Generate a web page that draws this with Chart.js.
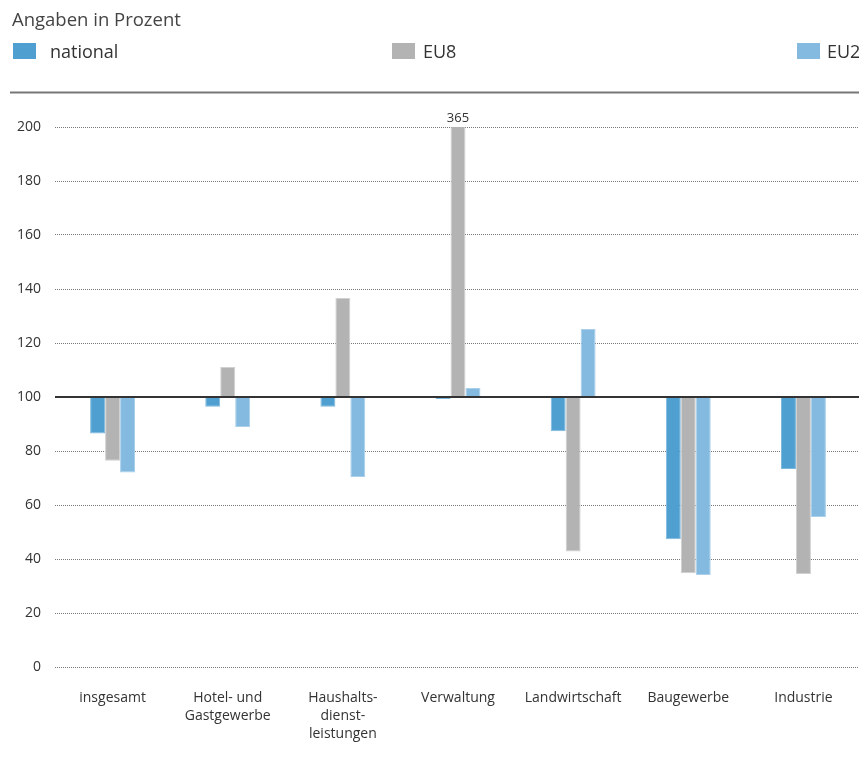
<!DOCTYPE html>
<html>
<head>
<meta charset="utf-8">
<script src="https://cdn.jsdelivr.net/npm/chart.js@4.4.1/dist/chart.umd.min.js"></script>
<style>
  html, body { margin: 0; padding: 0; background: #fff; overflow: hidden; }
  #wrap { position: relative; width: 872px; height: 764px; }
</style>
</head>
<body>
<div id="wrap"><canvas id="chart"></canvas></div>
<script>
// Werte in Prozent, Basis 100
const categories = ['insgesamt', ['Hotel- und', 'Gastgewerbe'], ['Haushalts-', 'dienst-', 'leistungen'],
    'Verwaltung', 'Landwirtschaft', 'Baugewerbe', 'Industrie'];
const base = 100;
const national = [86.5, 96.4, 96.4, 99.3, 87.3, 47.3, 73.3];
const eu8 = [76.4, 111.1, 136.7, 365, 42.8, 34.7, 34.4];
const eu27 = [72.0, 88.9, 70.4, 103.3, 125.2, 34.1, 55.6];
const yTicks = [0, 20, 40, 60, 80, 100, 120, 140, 160, 180, 200];

const seriesNames = ['national', 'EU8', 'EU27'];
const colors = ['#4f9fd0', '#b3b3b3', '#84bae0'];
const edges = ['#7db8dd', '#d0d0d0', '#a9cfea'];

const font = '"Open Sans", "Liberation Sans", Arial, sans-serif';
const textColor = '#333';

function toRange(arr) {
    return arr.map(v => [base, v]);
}

const datasets = [national, eu8, eu27].map((arr, i) => ({
    label: seriesNames[i],
    data: toRange(arr),
    backgroundColor: colors[i],
    borderColor: edges[i],
    borderWidth: 1,
    borderSkipped: false,
    categoryPercentage: 0.39,
    barPercentage: 1.0
}));

// Titel, Legende, Linie oben, 100er Linie und Wert über dem abgeschnittenen Balken
const decor = {
    id: 'decor',
    beforeDraw(chart) {
        const c = chart.ctx;
        c.save();
        c.fillStyle = '#444';
        c.font = '18.5px ' + font;
        c.textBaseline = 'alphabetic';
        c.fillText('Angaben in Prozent', 12, 26);

        const boxX = [13, 392, 797];
        const textX = [50, 423, 827];
        seriesNames.forEach((name, i) => {
            c.fillStyle = colors[i];
            c.fillRect(boxX[i], 43, 23, 16);
            c.fillStyle = textColor;
            c.font = '18px ' + font;
            c.fillText(name, textX[i], 58);
        });

        c.strokeStyle = '#777';
        c.lineWidth = 2;
        c.beginPath();
        c.moveTo(10, 92.5);
        c.lineTo(chart.width, 92.5);
        c.stroke();
        c.restore();
    },
    afterDatasetsDraw(chart) {
        const c = chart.ctx;
        const y = chart.scales.y;
        const area = chart.chartArea;
        const py = Math.round(y.getPixelForValue(base));
        c.save();
        c.strokeStyle = '#333';
        c.lineWidth = 2;
        c.beginPath();
        c.moveTo(area.left, py);
        c.lineTo(area.right, py);
        c.stroke();

        // Werte über der Skala
        chart.data.datasets.forEach((ds, di) => {
            const meta = chart.getDatasetMeta(di);
            ds.data.forEach((d, i) => {
                if (d[1] > y.max) {
                    const bar = meta.data[i];
                    c.fillStyle = textColor;
                    c.font = '13px ' + font;
                    c.textAlign = 'center';
                    c.textBaseline = 'bottom';
                    c.fillText(String(d[1]), bar.x, area.top - 2);
                }
            });
        });
        c.restore();
    }
};

new Chart(document.getElementById('chart'), {
    type: 'bar',
    data: { labels: categories, datasets: datasets },
    options: {
        responsive: true,
        maintainAspectRatio: false,
        animation: false,
        layout: { padding: { top: 127, right: 11, left: 1, bottom: 0 } },
        plugins: {
            legend: { display: false },
            tooltip: { enabled: false }
        },
        scales: {
            x: {
                grid: { display: false },
                border: { display: false },
                ticks: {
                    color: textColor,
                    font: { family: font, size: 14, lineHeight: 1.3 },
                    padding: 14,
                    maxRotation: 0,
                    autoSkip: false
                },
                afterFit(scale) { scale.height = 97; }
            },
            y: {
                min: 0,
                max: 200,
                afterBuildTicks(scale) { scale.ticks = yTicks.map(v => ({ value: v })); },
                grid: { color: '#777', lineWidth: 1, drawTicks: false },
                border: { display: false, dash: [1, 1] },
                ticks: {
                    color: textColor,
                    font: { family: font, size: 14 },
                    padding: 14
                },
                afterFit(scale) { scale.width = 54; }
            }
        }
    },
    plugins: [decor]
});
</script>
</body>
</html>
